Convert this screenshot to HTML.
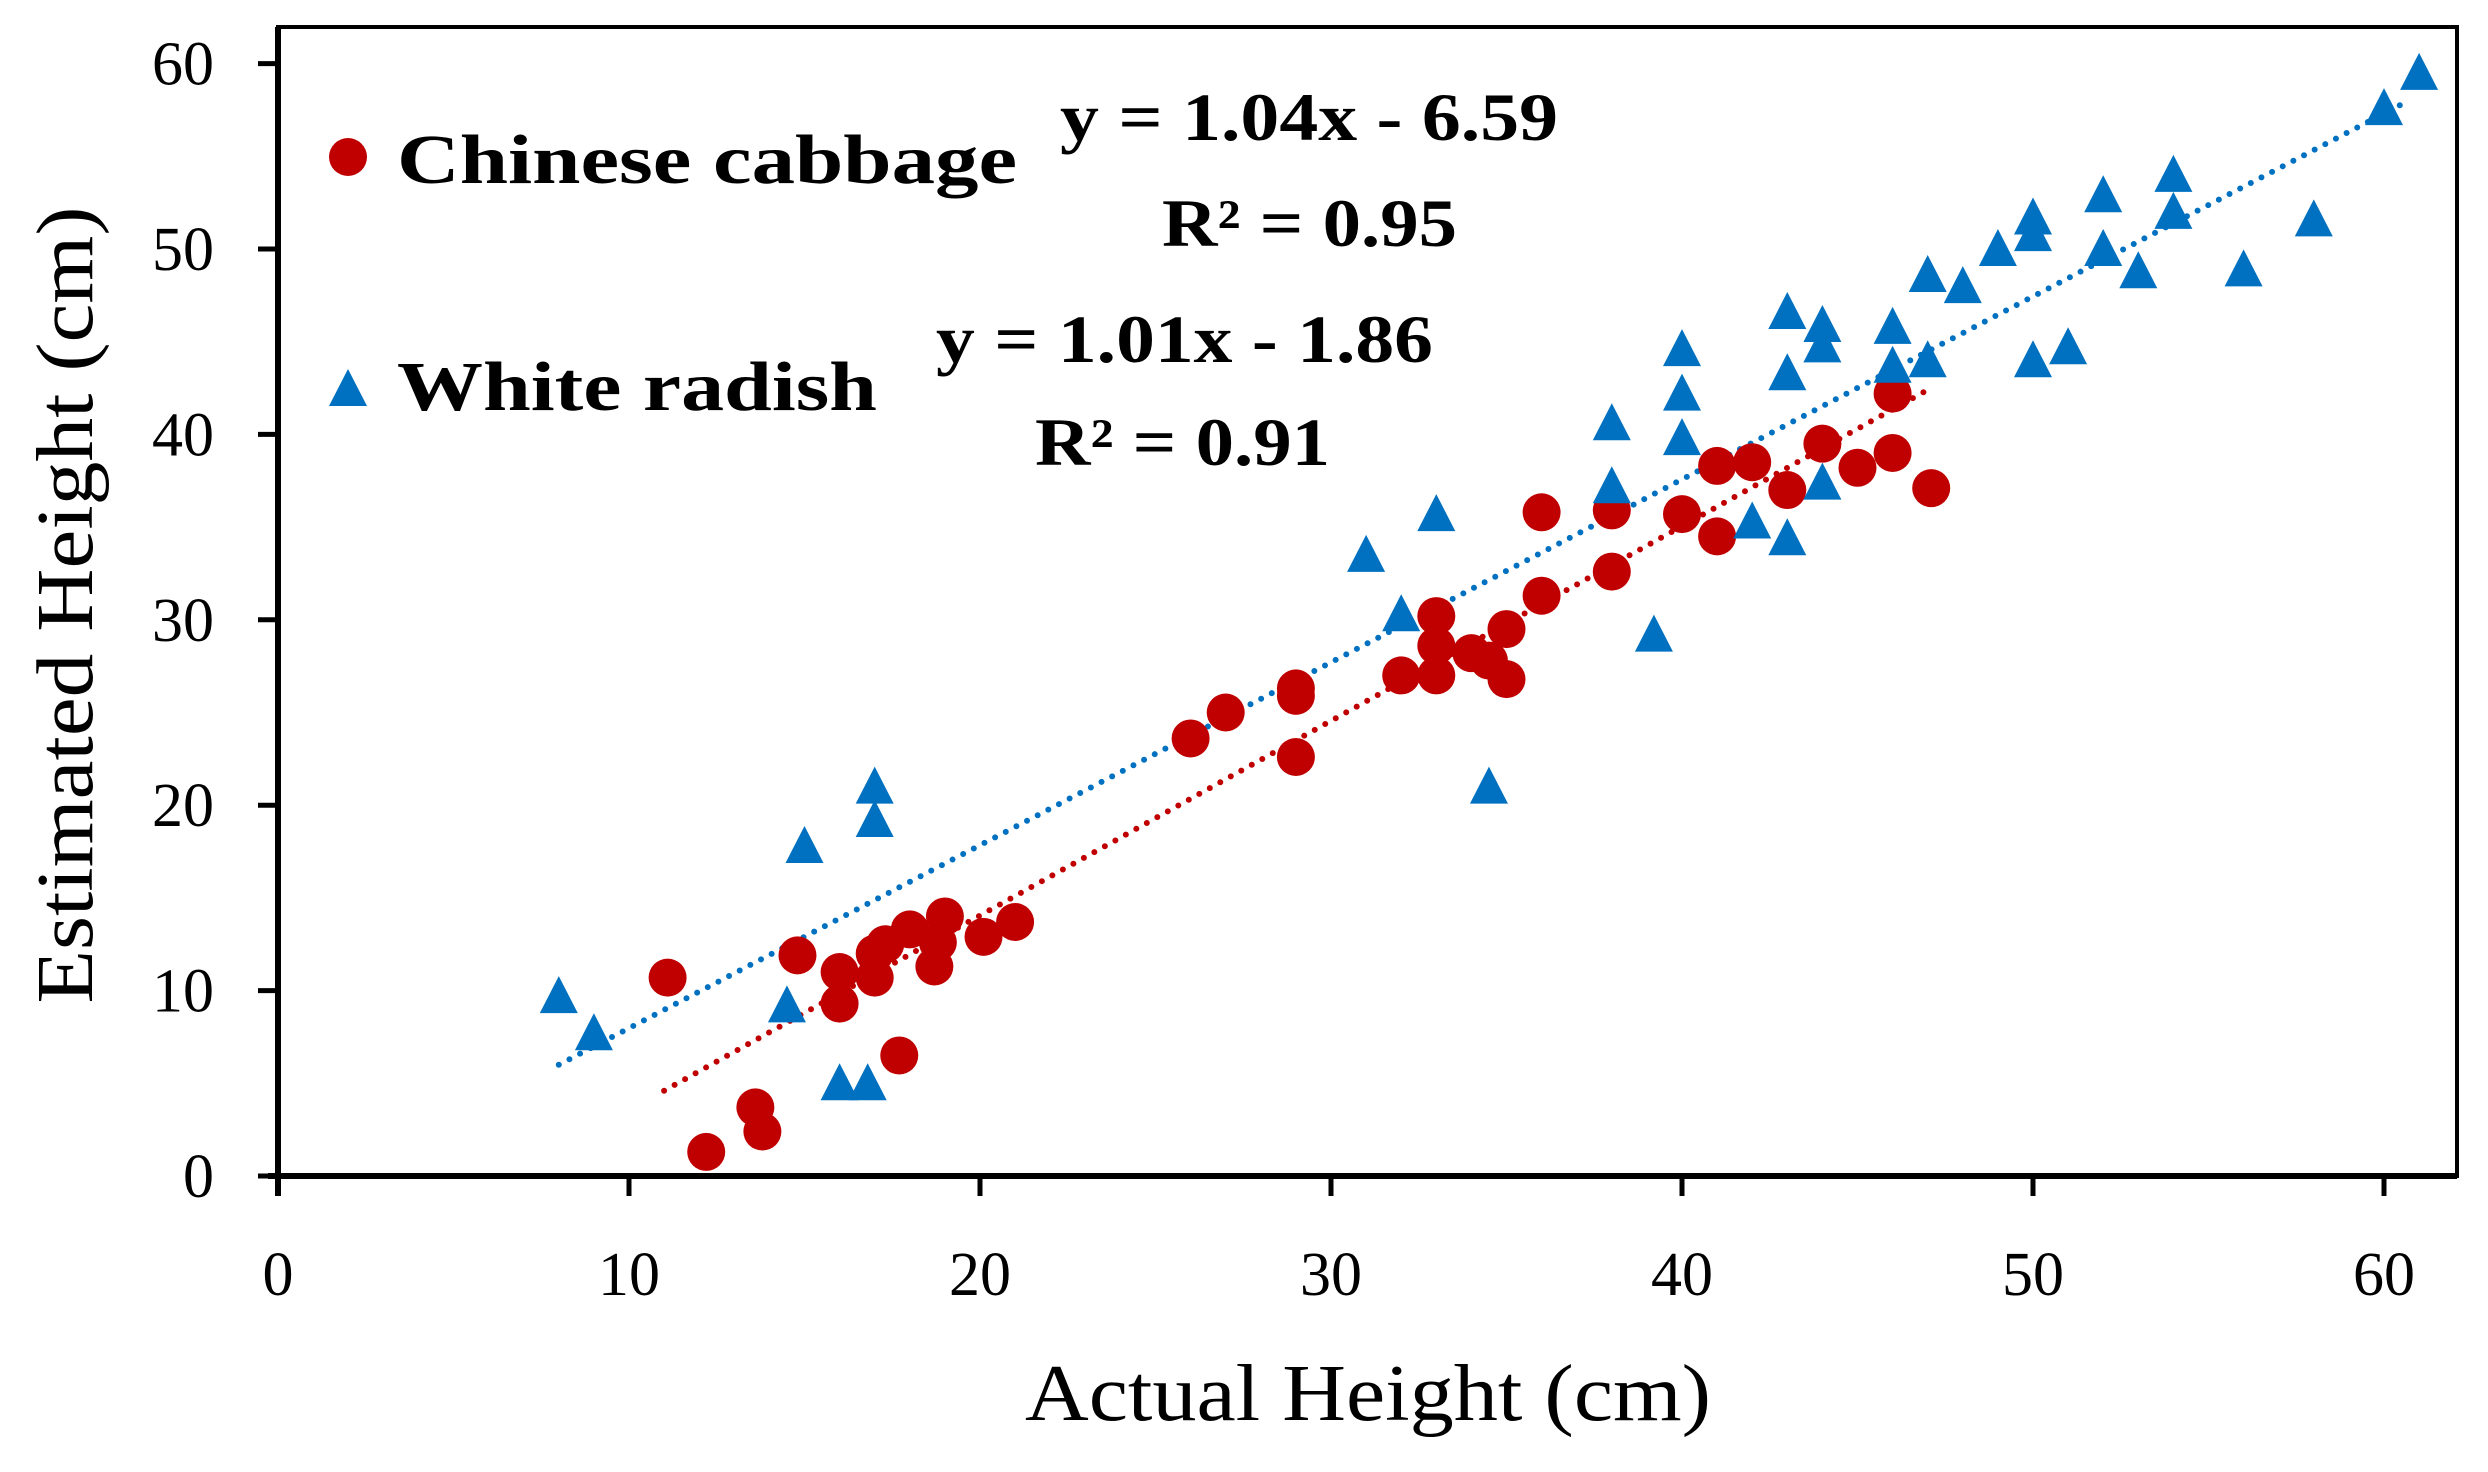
<!DOCTYPE html>
<html><head><meta charset="utf-8"><style>
html,body{margin:0;padding:0;background:#fff;}
svg{display:block;}
text{font-family:"Liberation Serif",serif;fill:#000;}
</style></head><body>
<svg id="s" width="2488" height="1472" viewBox="0 0 2488 1472" xmlns="http://www.w3.org/2000/svg">
<rect x="0" y="0" width="2488" height="1472" fill="#fff"/>
<rect x="278" y="27" width="2179" height="1149" fill="none" stroke="#000" stroke-width="4"/>
<line x1="268" y1="1176" x2="2457" y2="1176" stroke="#000" stroke-width="6"/>
<line x1="278" y1="27" x2="278" y2="1196" stroke="#000" stroke-width="6"/>
<g id="ticks"></g>
<g id="tl"></g>
<g id="pts"></g>
<circle cx="348" cy="157" r="19" fill="#c00000"/>
<text x="397" y="183" font-size="70" font-weight="bold" textLength="620" lengthAdjust="spacingAndGlyphs">Chinese cabbage</text>
<polygon points="348,369 367,406 329,406" fill="#0070c0"/>
<text x="397" y="410" font-size="70" font-weight="bold" textLength="480" lengthAdjust="spacingAndGlyphs">White radish</text>
<text x="1060" y="140" font-size="68" font-weight="bold" textLength="498" lengthAdjust="spacingAndGlyphs">y = 1.04x - 6.59</text>
<text x="1162" y="246" font-size="68" font-weight="bold" textLength="295" lengthAdjust="spacingAndGlyphs">R² = 0.95</text>
<text x="936" y="362" font-size="68" font-weight="bold" textLength="497" lengthAdjust="spacingAndGlyphs">y = 1.01x - 1.86</text>
<text x="1035" y="465" font-size="68" font-weight="bold" textLength="295" lengthAdjust="spacingAndGlyphs">R² = 0.91</text>
<text x="1368" y="1420" font-size="80" text-anchor="middle" textLength="686" lengthAdjust="spacingAndGlyphs">Actual Height (cm)</text>
<text transform="translate(92,605) rotate(-90)" font-size="80" text-anchor="middle" textLength="797" lengthAdjust="spacingAndGlyphs">Estimated Height (cm)</text>
</svg>
<script>
var NS="http://www.w3.org/2000/svg";
function X(v){return 278+35.1*v;}function Y(v){return 1176-18.54*v;}
function el(p,t,a,txt){var e=document.createElementNS(NS,t);for(var k in a)e.setAttribute(k,a[k]);if(txt!=null)e.textContent=txt;document.getElementById(p).appendChild(e);}
for(var i=0;i<=6;i++){var v=i*10;
el("ticks","line",{x1:X(v),y1:1176,x2:X(v),y2:1196,stroke:"#000","stroke-width":5});
el("ticks","line",{x1:258,y1:Y(v),x2:278,y2:Y(v),stroke:"#000","stroke-width":5});
el("tl","text",{x:X(v),y:1295,"font-size":62,"text-anchor":"middle"},String(v));
el("tl","text",{x:214,y:Y(v)+21,"font-size":62,"text-anchor":"end"},String(v));}
el("pts","line",{x1:X(8),y1:Y(6),x2:X(60.5),y2:Y(57.8),stroke:"#0070c0","stroke-width":6,"stroke-dasharray":"0 12","stroke-linecap":"round"});
el("pts","line",{x1:X(11),y1:Y(4.6),x2:X(47),y2:Y(42.4),stroke:"#c00000","stroke-width":6,"stroke-dasharray":"0 12","stroke-linecap":"round"});
var red=[[11.1,10.7],[12.2,1.3],[13.6,3.7],[13.8,2.4],[14.8,11.9],[16,11],[16,9.3],[17,12],[17,10.7],[17.3,12.5],[17.7,6.5],[18,13.3],[18.7,11.3],[18.8,12.6],[19,14],[20.1,12.9],[21,13.7],[26,23.6],[27,25],[29,26.3],[29,25.9],[29,22.6],[32,27],[33,30.2],[33,28.6],[33,27],[34,28.2],[34.5,27.8],[35,29.5],[35,26.8],[36,35.8],[36,31.3],[38,35.9],[38,32.6],[40,35.7],[41,38.3],[41,34.5],[42,38.5],[43,37],[44,39.5],[45,38.2],[46,39],[46,42.2],[47.1,37.1]];
var blue=[[8,9.7],[9,7.7],[14.5,9.2],[15,17.8],[16,5],[16.8,5],[17,21],[17,19.2],[31,33.5],[32,30.3],[33,35.7],[34.5,21],[38,40.6],[38,37.2],[39.2,29.2],[40,44.6],[40,42.2],[40,39.8],[42,35.3],[43,46.6],[43,43.3],[43,34.4],[44,45.9],[44,44.8],[44,37.4],[46,45.8],[46,43.7],[47,48.6],[47,44],[48,48],[49,50],[50,51.7],[50,50.8],[50,44],[51,44.7],[52,52.9],[52,50],[53,48.8],[54,54],[54,52],[56,48.9],[58,51.6],[60,57.6],[61,59.5]];
red.forEach(function(p){el("pts","circle",{cx:X(p[0]),cy:Y(p[1]),r:19,fill:"#c00000"});});
blue.forEach(function(p){var x=X(p[0]),y=Y(p[1]);el("pts","polygon",{points:x+","+(y-20)+" "+(x+19)+","+(y+17)+" "+(x-19)+","+(y+17),fill:"#0070c0"});});
</script>
</body></html>
